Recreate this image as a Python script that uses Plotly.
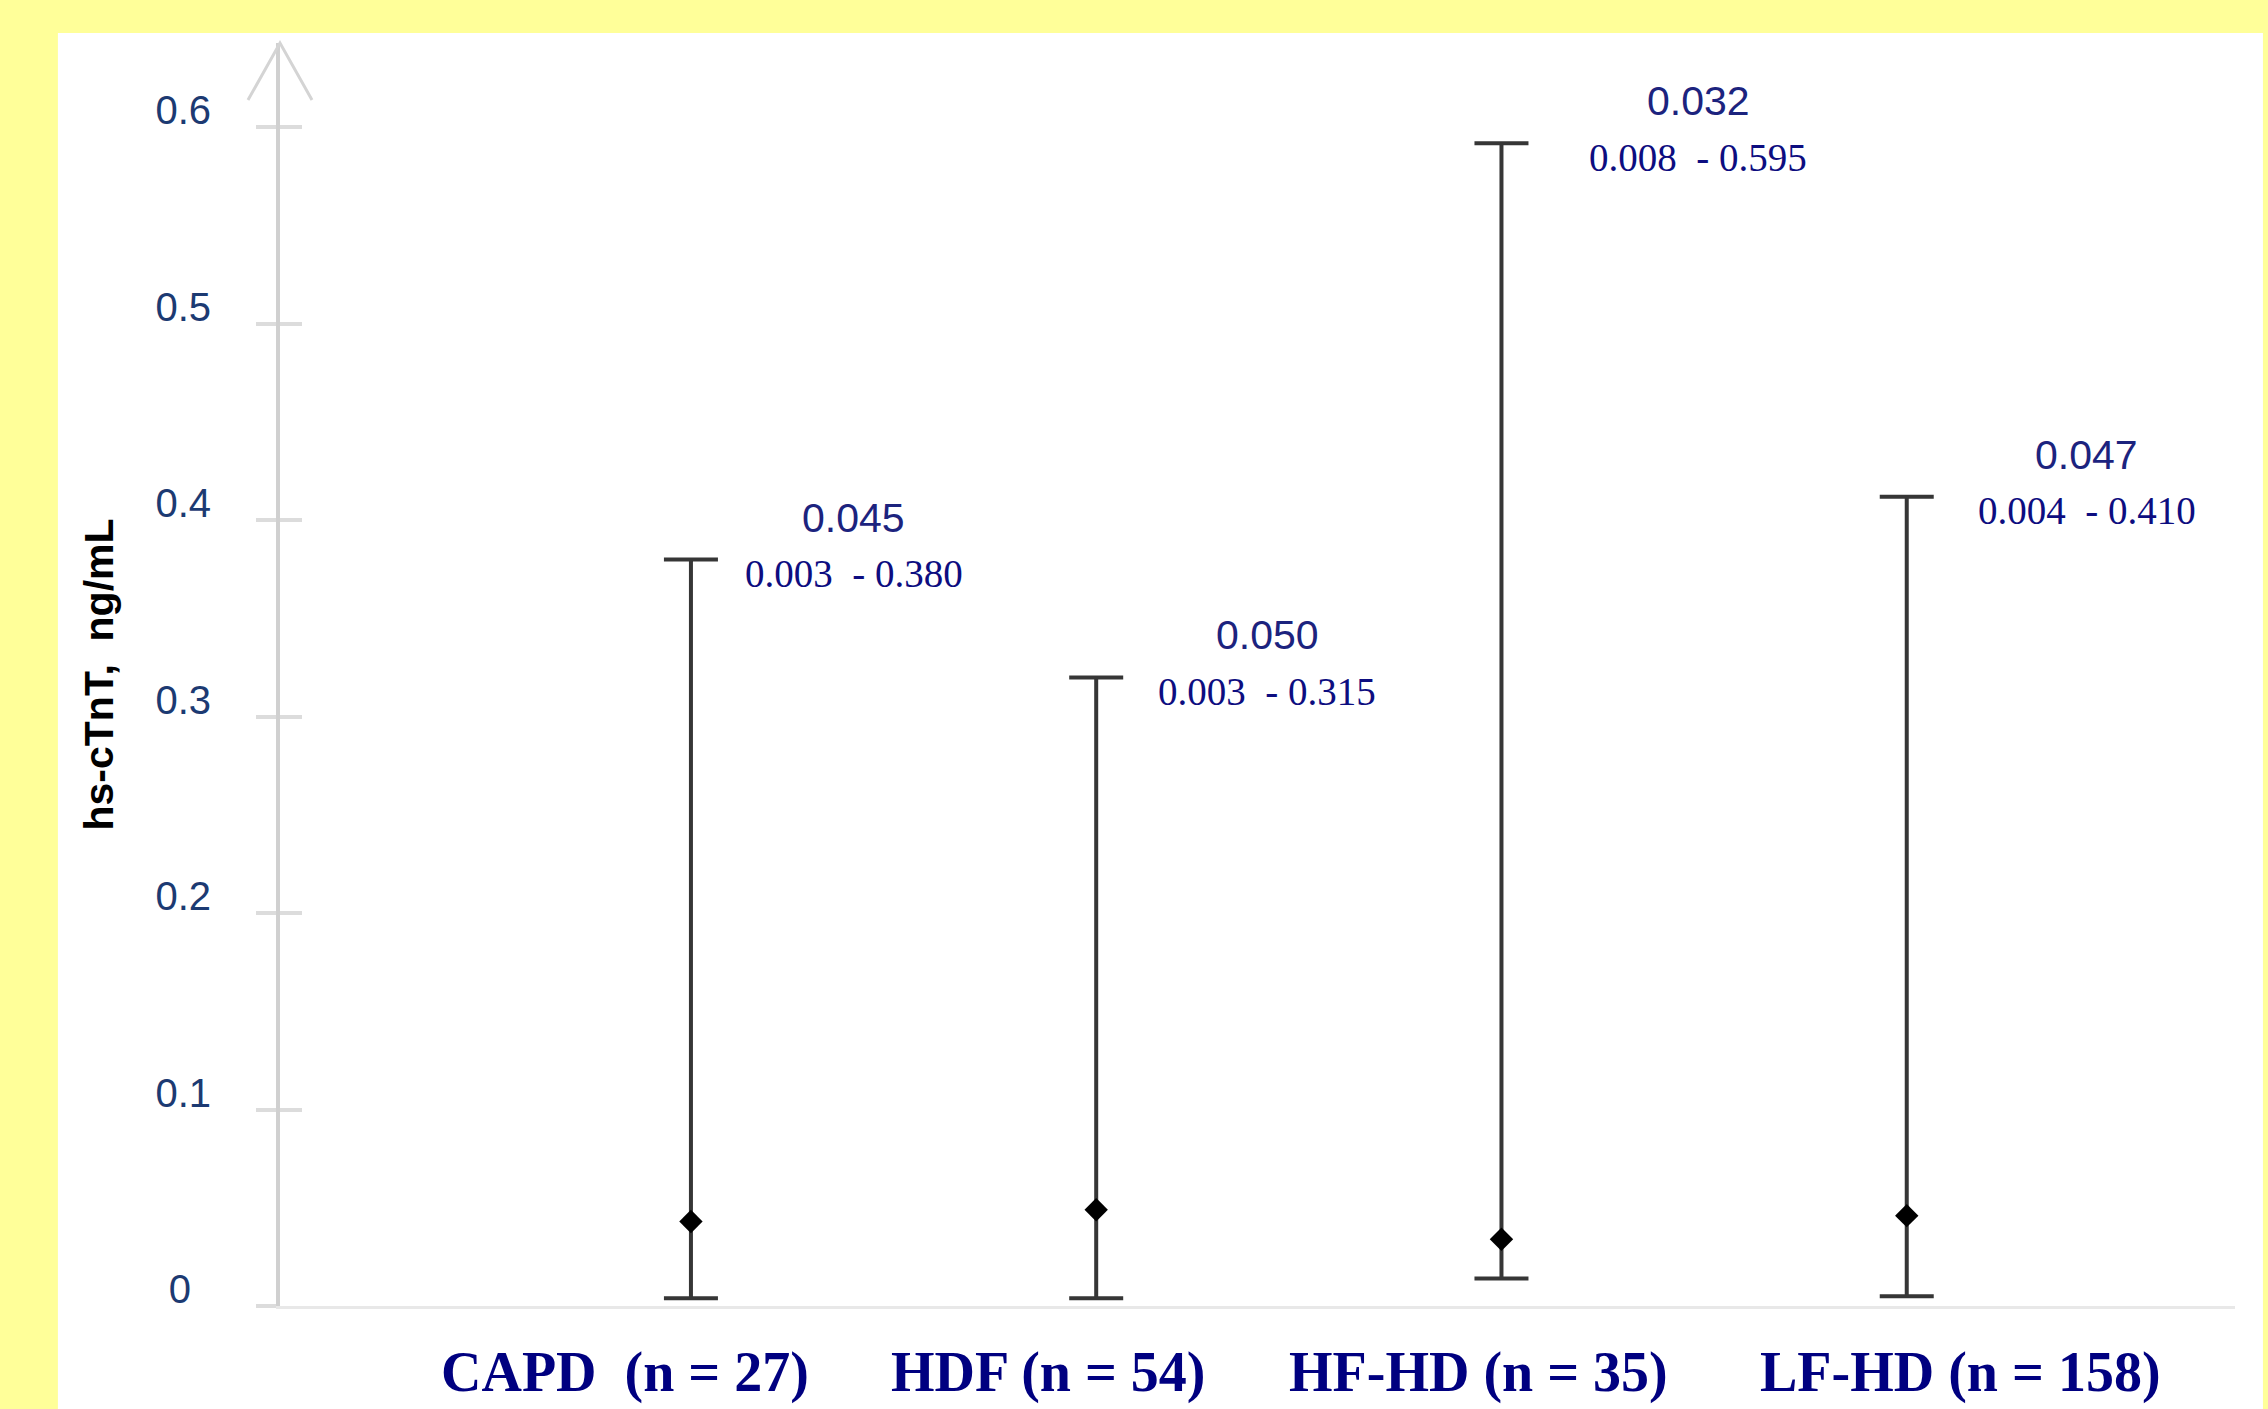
import plotly.graph_objects as go

# ---- data ----
groups = ["CAPD  (n = 27)", "HDF (n = 54)", "HF-HD (n = 35)", "LF-HD (n = 158)"]
group_pos = [1, 2, 3, 4]
median_vals = [0.043, 0.049, 0.034, 0.046]
low_vals = [0.004, 0.004, 0.014, 0.005]
high_vals = [0.380, 0.320, 0.592, 0.412]
median_labels = ["0.045", "0.050", "0.032", "0.047"]
range_labels = ["0.003  - 0.380", "0.003  - 0.315", "0.008  - 0.595", "0.004  - 0.410"]
y_ticks = [0, 0.1, 0.2, 0.3, 0.4, 0.5, 0.6]
y_ticktext = ["0", "0.1", "0.2", "0.3", "0.4", "0.5", "0.6"]

# ---- layout constants (pixels / styling) ----
YMAX = 0.643
XRANGE = [-0.014, 4.81]
CAT_XSHIFT = [-66, -48, -23, 54]
NOTE_XSHIFT = [163, 171, 197, 180]

err_plus = [h - m for h, m in zip(high_vals, median_vals)]
err_minus = [m - l for m, l in zip(median_vals, low_vals)]

# tick labels are centred in the reference: pad short ones on the right
tick_labels_centered = [t + ("\u2002" if len(t) == 1 else "") for t in y_ticktext]

fig = go.Figure()
fig.add_trace(go.Scatter(
    x=group_pos, y=median_vals, mode="markers",
    marker=dict(symbol="diamond", size=18, color="black"),
    error_y=dict(type="data", symmetric=False, array=err_plus, arrayminus=err_minus,
                 color="#363636", thickness=4, width=27),
    showlegend=False, hoverinfo="skip",
))
# invisible trace to carry the inner tick axis
fig.add_trace(go.Scatter(
    x=group_pos, y=median_vals, mode="markers", yaxis="y2",
    marker=dict(opacity=0), showlegend=False, hoverinfo="skip",
))

# value annotations
for xp, hv, ml, rl, xs in zip(group_pos, high_vals, median_labels, range_labels, NOTE_XSHIFT):
    fig.add_annotation(x=xp, y=hv, text=ml, showarrow=False, xshift=xs, yshift=42,
                       font=dict(family="Liberation Sans, Arial", size=41, color="#1c237e"))
    fig.add_annotation(x=xp, y=hv, text=rl, showarrow=False, xshift=xs, yshift=-14,
                       font=dict(family="Liberation Serif, Times New Roman", size=39, color="#0d0d80"))

# category labels
for xp, g, xs in zip(group_pos, groups, CAT_XSHIFT):
    fig.add_annotation(x=xp, y=0, yref="paper", text="<b>" + g + "</b>", showarrow=False,
                       xshift=xs, yshift=-66, yanchor="middle",
                       font=dict(family="Liberation Serif, Times New Roman", size=56, color="#000080"))

# white panel over yellow background
fig.add_shape(type="rect", xref="paper", yref="paper", x0=-0.1136, x1=1.0143, y0=-0.0816, y1=1.0079,
              fillcolor="white", line=dict(width=0), layer="below")

# open arrow head at top of y axis
fig.add_shape(type="path", xref="paper", yref="paper", xsizemode="pixel", ysizemode="pixel",
              xanchor=0, yanchor=1, path="M-32,-57 L0,0 L32,-57",
              line=dict(color="#d4d4d4", width=3))

fig.update_layout(
    width=2268, height=1409,
    paper_bgcolor="#FFFF99", plot_bgcolor="white",
    margin=dict(l=280, r=33, t=43, b=103),
    xaxis=dict(range=XRANGE, tickvals=group_pos, showticklabels=False, showgrid=False,
               zeroline=False, showline=True, linecolor="#e8e8e8", linewidth=3, ticks=""),
    yaxis=dict(range=[0, YMAX], tickvals=y_ticks, ticktext=tick_labels_centered, showgrid=False,
               zeroline=False, showline=True, linecolor="#d0d0d0", linewidth=4,
               ticks="outside", ticklen=20, tickwidth=4, tickcolor="#dcdcdc",
               ticklabelstandoff=37, ticklabelshift=-17,
               tickfont=dict(family="Liberation Sans, Arial", size=40, color="#1c3a72"),
               title=dict(text="<b>hs-cTnT,  ng/mL</b>", standoff=30,
                          font=dict(family="Liberation Sans, Arial", size=41, color="black"))),
    yaxis2=dict(range=[0, YMAX], overlaying="y", side="left", anchor="x",
                tickvals=y_ticks, showticklabels=False, showgrid=False, zeroline=False,
                showline=False, ticks="inside", ticklen=22, tickwidth=4, tickcolor="#dcdcdc"),
)

fig.write_html("out.html", config={"displayModeBar": False},
               post_script="document.body.style.margin='0';")
